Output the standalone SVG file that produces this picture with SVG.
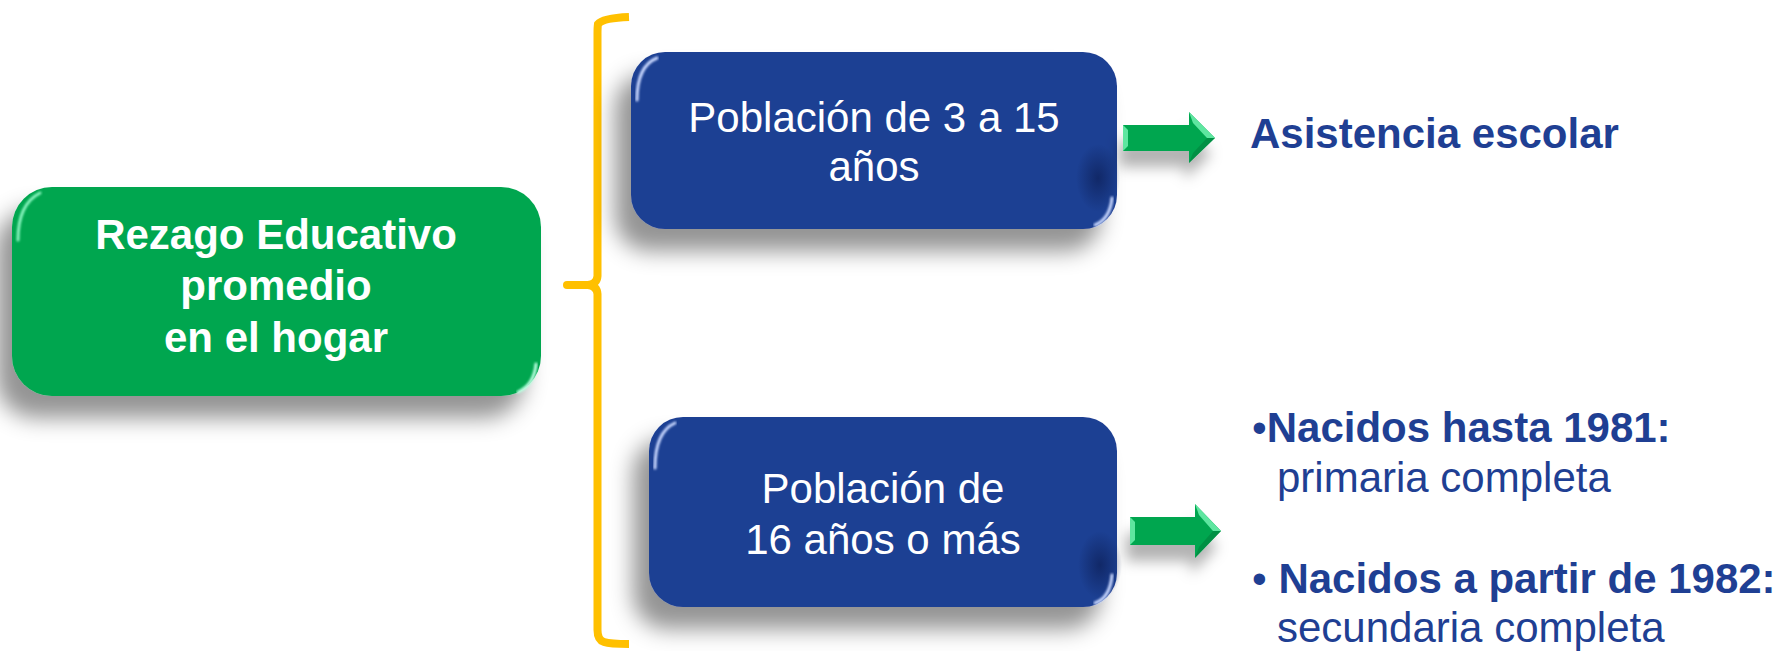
<svg xmlns="http://www.w3.org/2000/svg" width="1787" height="651" viewBox="0 0 1787 651">
<style>
.t{font-family:"Liberation Sans",Arial,sans-serif;font-size:42px}
.w{fill:#ffffff;text-anchor:middle}
.b{font-weight:bold}
.blue{fill:#1F3F93}
.hl{fill:none;stroke-linecap:round}
</style>
<defs>
<filter id="sh" x="-20%" y="-30%" width="140%" height="180%">
<feDropShadow dx="-16" dy="22" stdDeviation="11" flood-color="#000" flood-opacity="0.42"/>
</filter>
<filter id="ash" x="-30%" y="-50%" width="160%" height="250%">
<feDropShadow dx="-4" dy="16" stdDeviation="7" flood-color="#000" flood-opacity="0.3"/>
</filter>
<filter id="soft"><feGaussianBlur stdDeviation="1"/></filter>
<radialGradient id="dk" cx="0.5" cy="0.5" r="0.5">
<stop offset="0" stop-color="#0f2460" stop-opacity="0.85"/>
<stop offset="1" stop-color="#0f2460" stop-opacity="0"/>
</radialGradient>
</defs>

<g id="bracket">
<path d="M629,17 Q603,18 598,24 Q597.5,27 597.5,34 L597.5,276 Q597,284 588,285 M588,285 Q597,286 597.5,294 L597.5,630 Q597.5,640 604,642 Q610,644 629,644" fill="none" stroke="#FFC000" stroke-width="8"/>
<line x1="567" y1="285" x2="590" y2="285" stroke="#FFC000" stroke-width="8" stroke-linecap="round"/>
</g>

<g id="n-rezago">
<rect x="12" y="187" width="529" height="209" rx="40" fill="#00A650" filter="url(#sh)"/>
<path class="hl" d="M18,240 Q18,204 40,193" stroke="#8af5bf" stroke-width="3" filter="url(#soft)"/>
<path class="hl" d="M536,232 L536,352" stroke="#5fe3a0" stroke-width="4" filter="url(#soft)"/>
<path class="hl" d="M536,364 Q534,385 518,392" stroke="#b9ffe0" stroke-width="3" filter="url(#soft)"/>
<text class="t w b" x="276" y="249">Rezago Educativo</text>
<text class="t w b" x="276" y="300">promedio</text>
<text class="t w b" x="276" y="352">en el hogar</text>
</g>

<g id="n-pob1">
<rect x="631" y="52" width="486" height="177" rx="34" fill="#1F3F93" filter="url(#sh)"/>
<ellipse cx="1098" cy="178" rx="22" ry="34" fill="url(#dk)"/>
<path class="hl" d="M637,100 Q637,66 657,58" stroke="#c9d8ff" stroke-width="3" filter="url(#soft)"/>
<path class="hl" d="M1112,90 L1112,188" stroke="#6f8fdf" stroke-width="4" filter="url(#soft)"/>
<path class="hl" d="M1112,198 Q1110,219 1095,225" stroke="#c9d8ff" stroke-width="3" filter="url(#soft)"/>
<text class="t w" x="874" y="132">Población de 3 a 15</text>
<text class="t w" x="874" y="181">años</text>
</g>

<g id="n-pob2">
<rect x="649" y="417" width="468" height="190" rx="34" fill="#1F3F93" filter="url(#sh)"/>
<ellipse cx="1100" cy="565" rx="22" ry="34" fill="url(#dk)"/>
<path class="hl" d="M655,468 Q655,432 675,423" stroke="#c9d8ff" stroke-width="3" filter="url(#soft)"/>
<path class="hl" d="M1112,455 L1112,565" stroke="#6f8fdf" stroke-width="4" filter="url(#soft)"/>
<path class="hl" d="M1112,575 Q1110,598 1095,603" stroke="#c9d8ff" stroke-width="3" filter="url(#soft)"/>
<text class="t w" x="883" y="503">Población de</text>
<text class="t w" x="883" y="554">16 años o más</text>
</g>

<g id="connectors">
<g filter="url(#ash)">
<polygon points="1123,125 1189,125 1189,112 1215,138 1189,163 1189,151 1123,151" fill="#00A650"/>
<polygon points="1130,517 1195,517 1195,504 1221,531 1195,558 1195,545 1130,545" fill="#00A650"/>
</g>
<g fill="#5ee6a0">
<polygon points="1123,125 1128,130 1128,146 1123,151"/>
<polygon points="1189,112 1215,138 1207,138 1193,123"/>
<polygon points="1130,517 1135,522 1135,540 1130,545"/>
<polygon points="1195,504 1221,531 1213,531 1199,515"/>
</g>
<g fill="#007a3a" opacity="0.5">
<polygon points="1215,138 1189,163 1193,153 1207,138"/>
<polygon points="1221,531 1195,558 1199,547 1213,531"/>
</g>
</g>

<g id="labels">
<text class="t b blue" x="1250" y="148">Asistencia escolar</text>
<text class="t blue" x="1252" y="442">•<tspan class="b">Nacidos hasta 1981:</tspan></text>
<text class="t blue" x="1277" y="492">primaria completa</text>
<text class="t blue" x="1252" y="593">• <tspan class="b">Nacidos a partir de 1982:</tspan></text>
<text class="t blue" x="1277" y="642">secundaria completa</text>
</g>
</svg>
